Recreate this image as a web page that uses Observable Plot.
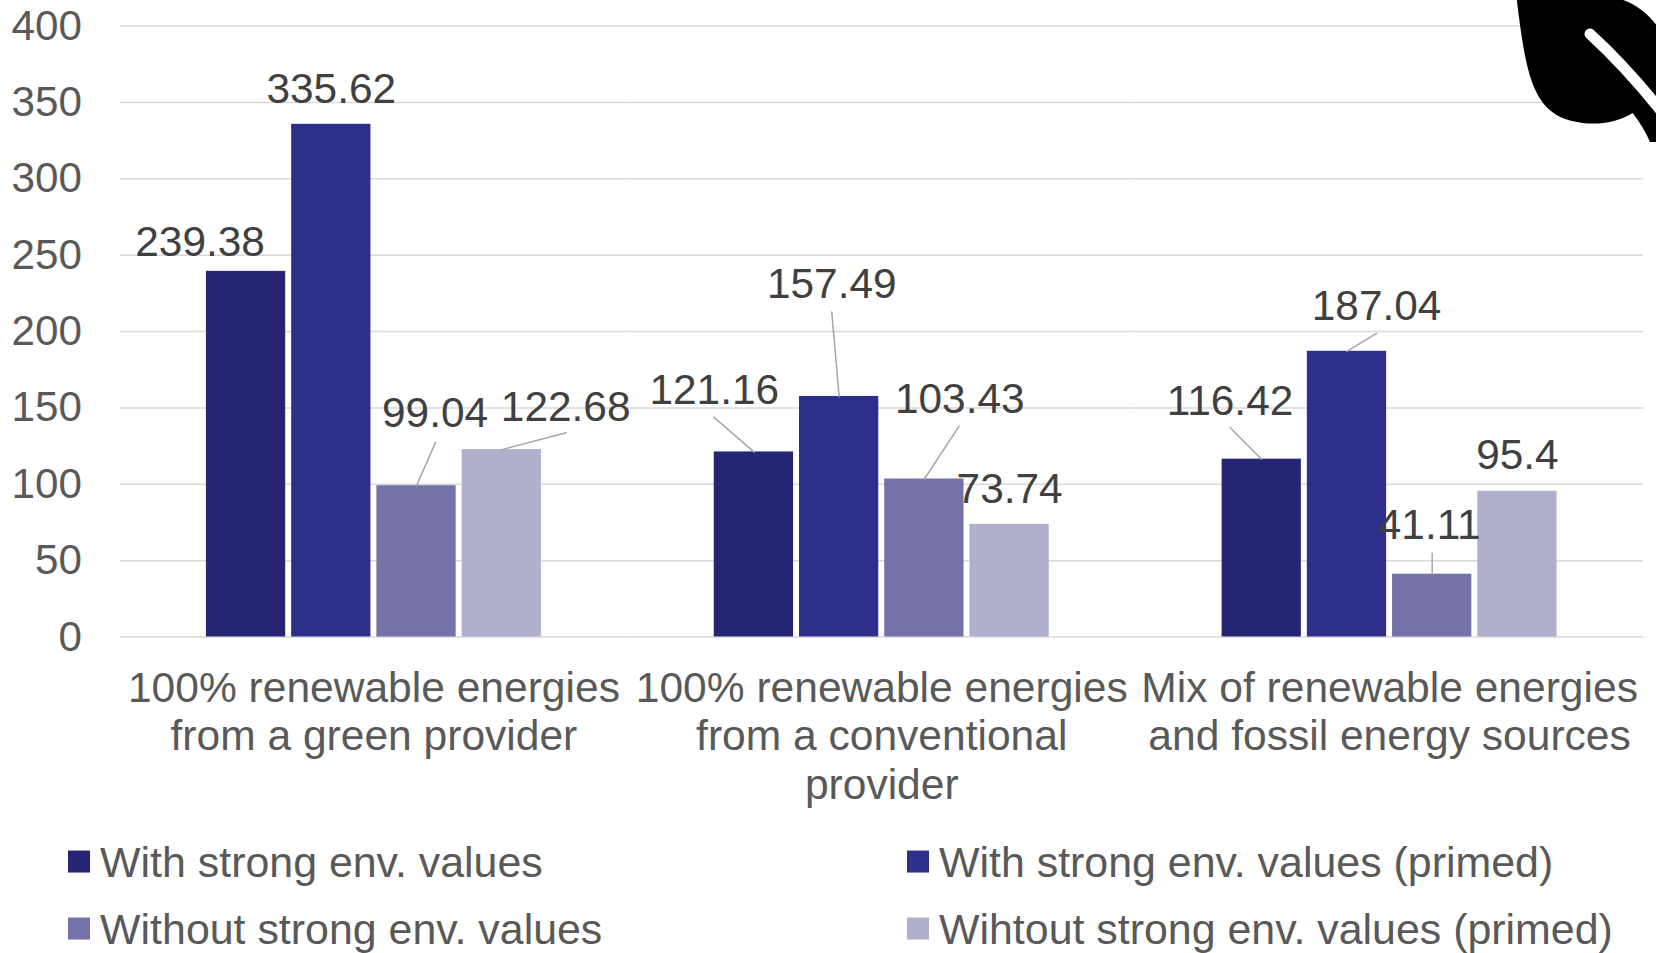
<!DOCTYPE html>
<html>
<head>
<meta charset="utf-8">
<script src="https://cdn.jsdelivr.net/npm/d3@7"></script>
<script src="https://cdn.jsdelivr.net/npm/@observablehq/plot@0.6"></script>
<style>
html,body{margin:0;padding:0;background:#fff;width:1656px;height:953px;overflow:hidden}
#page{position:relative;width:1656px;height:953px;font-family:"Liberation Sans",Arial,sans-serif}
.lg{position:absolute;display:flex;align-items:center;font-size:42.9px;color:#595959;line-height:1;white-space:nowrap;transform:translateY(-50%)}
.lg i{display:block;width:22px;height:22px;margin-right:10.5px}
</style>
</head>
<body>
<div id="page"></div>
<script>
const categories = [
  "100% renewable energies\nfrom a green provider",
  "100% renewable energies\nfrom a conventional\nprovider",
  "Mix of renewable energies\nand fossil energy sources"
];
const seriesNames = [
  "With strong env. values",
  "With strong env. values (primed)",
  "Without strong env. values",
  "Wihtout strong env. values (primed)"
];
const strongValues = [239.38, 121.16, 116.42];
const strongPrimedValues = [335.62, 157.49, 187.04];
const withoutValues = [99.04, 103.43, 41.11];
const withoutPrimedValues = [122.68, 73.74, 95.4];
const yTicks = [0, 50, 100, 150, 200, 250, 300, 350, 400];
const seriesColors = ["#252574", "#2e2e8b", "#7373aa", "#b0b0cd"];

// Label layout: pixel offsets of each value label and its leader, from the bar top.
const labelOffsets = [
  [[-46, -29], [-39.6, -61.2], [-31.7, -57.5]],
  [[0, -34.8], [-7.4, -111.8], [29.6, -44.4]],
  [[18.5, -72.3], [35.4, -79.7], [-3, -49]],
  [[63.9, -42], [0, -34.8], [0, -35.9]]
];
const leaderOffsets = [
  [null, [-40.1, -34.8], [-31.7, -31.7]],
  [null, [-7.4, -84.5], [29.6, -18]],
  [[19, -43.3], [34.8, -52.8], [0, -21]],
  [[64.4, -16.9], null, null]
];

const allValues = [strongValues, strongPrimedValues, withoutValues, withoutPrimedValues];
const rows = allValues.flatMap((vals, s) => vals.map((value, c) => ({
  category: categories[c], series: seriesNames[s], value,
  label: labelOffsets[s][c], leader: leaderOffsets[s][c]
})));

const lineShape = {draw(ctx, l) { ctx.moveTo(0, 0); ctx.lineTo(0, -l); }};

const leaf = () => {
  const g = d3.create("svg:g");
  g.append("path").attr("fill", "#000")
    .attr("d", "M1516.5,-2 C1520,25 1524,60 1532,82 C1540,104 1552,116 1572,121 C1592,126 1615,124 1632.7,113 C1640,123 1646,132 1650,142 L1660,142 L1660,30 C1650,15 1635,2 1616,-2 Z");
  g.append("path").attr("fill", "none").attr("stroke", "#fff").attr("stroke-width", 11).attr("stroke-linecap", "round")
    .attr("d", "M1590,34 C1612,54 1638,82 1662,112");
  return g.node();
};

const chart = Plot.plot({
  width: 1656,
  height: 830,
  marginTop: 25.5,
  marginBottom: 193.5,
  marginLeft: 119.5,
  marginRight: 13,
  style: {fontFamily: '"Liberation Sans", Arial, sans-serif', background: "#fff", overflow: "visible"},
  fx: {domain: categories, paddingInner: 0, paddingOuter: 0, round: false, label: null, axis: null},
  x: {domain: seriesNames, paddingInner: 0.07, paddingOuter: 1.014, round: false, axis: null},
  y: {domain: [0, 400], label: null, axis: null},
  color: {domain: seriesNames, range: seriesColors},
  marks: [
    Plot.ruleY(yTicks, {stroke: "#d9d9d9", strokeWidth: 1.5}),
    Plot.barY(rows, {fx: "category", x: "series", y: "value", fill: "series"}),
    ...rows.filter(d => d.leader).map(d => Plot.vector([d], {
      fx: "category", x: "series", y: "value",
      length: Math.hypot(d.leader[0], d.leader[1]),
      rotate: Math.atan2(d.leader[0], -d.leader[1]) * 180 / Math.PI,
      anchor: "start", shape: lineShape, stroke: "#a6a6a6", strokeWidth: 1.5
    })),
    ...rows.map(d => Plot.text([d], {
      fx: "category", x: "series", y: "value", text: d => String(d.value),
      dx: d.label[0], dy: d.label[1], fontSize: 42.4, fill: "#404040"
    })),
    Plot.axisY({ticks: yTicks, tickSize: 0, tickPadding: 38, fontSize: 42.2, fill: "#595959", label: null, facetAnchor: "left"}),
    Plot.axisFx({tickSize: 0, tickPadding: 30, fontSize: 42.55, fill: "#595959", label: null, lineHeight: 1.142, anchor: "bottom", tickFormat: d => d}),
    leaf
  ]
});

const page = document.getElementById("page");
page.appendChild(chart);
chart.style.position = "absolute";
chart.style.left = "0";
chart.style.top = "0";

const legendPos = [[67.6, 861.5], [906.5, 861.5], [67.6, 929], [906.5, 929]];
const legendOrder = seriesNames.map((n, i) => ({n, c: seriesColors[i]}));
// Reference legend order is row-wise: series 0, 1 / 2, 3
legendOrder.forEach((d, i) => {
  const el = document.createElement("div");
  el.className = "lg";
  el.style.left = legendPos[i][0] + "px";
  el.style.top = legendPos[i][1] + "px";
  const sw = document.createElement("i");
  sw.style.background = d.c;
  el.appendChild(sw);
  el.appendChild(document.createTextNode(d.n));
  page.appendChild(el);
});
</script>
</body>
</html>
